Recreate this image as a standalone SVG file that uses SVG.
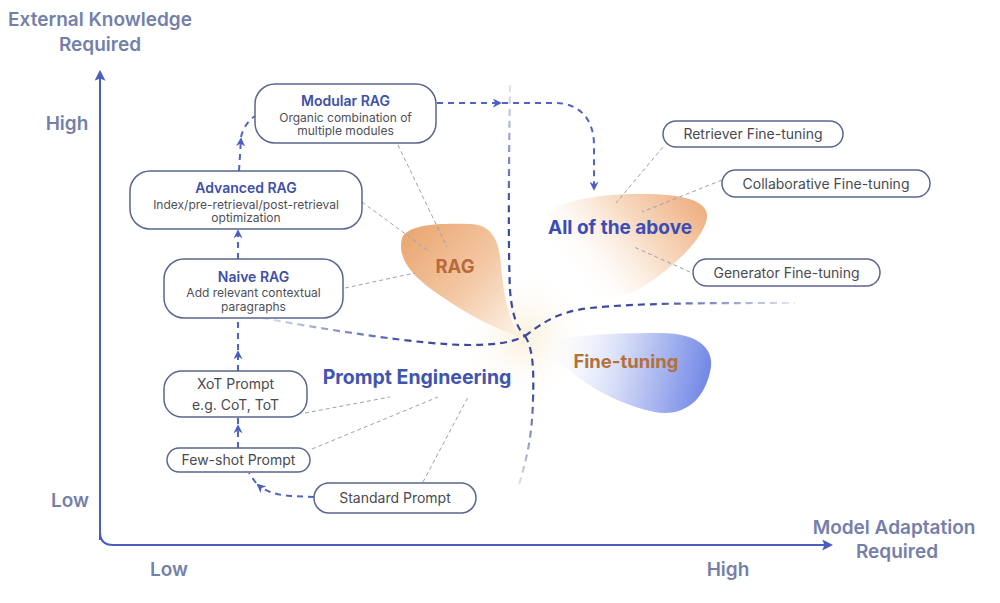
<svg xmlns="http://www.w3.org/2000/svg" width="1000" height="603" viewBox="0 0 1000 603">
<style>
.box{fill:#fff;stroke:#5a668f;stroke-width:1.5}
.t{font-family:Inter,"Liberation Sans",sans-serif;text-anchor:middle}
.ttl{font-size:14px;font-weight:600;fill:#3e50a8}
.sub{font-size:12px;fill:#4f4f55}
.lbl{font-size:14px;fill:#4a4a50}
.ax{font-size:19px;font-weight:600;fill:#7580aa}
.big{font-size:18.5px;font-weight:700}
.lead{fill:none;stroke:#9ca1b2;stroke-width:1;stroke-dasharray:4 3}
.arr{fill:none;stroke:#5164c6;stroke-width:2;stroke-dasharray:6 5}
.div{fill:none;stroke-width:2.2;stroke-dasharray:7 5}
</style>
<defs>
<marker id="ah" viewBox="0 0 10 10" refX="8" refY="5" markerWidth="9" markerHeight="9" markerUnits="userSpaceOnUse" orient="auto">
<path d="M0,0 L10,5 L0,10 L3,5 Z" fill="#4a5dc4"/>
</marker>
<marker id="axh" viewBox="0 0 10 10" refX="8" refY="5" markerWidth="11" markerHeight="11" markerUnits="userSpaceOnUse" orient="auto">
<path d="M0,0 L10,5 L0,10 L2,5 Z" fill="#4c5dbf"/>
</marker>
<linearGradient id="gRag" x1="400" y1="230" x2="515" y2="335" gradientUnits="userSpaceOnUse">
<stop offset="0" stop-color="#e9a56f"/>
<stop offset="0.55" stop-color="#f3c8a4"/>
<stop offset="1" stop-color="#fdf1e4"/>
</linearGradient>
<linearGradient id="gAll" x1="700" y1="200" x2="585" y2="295" gradientUnits="userSpaceOnUse">
<stop offset="0" stop-color="#eeae80"/>
<stop offset="0.45" stop-color="#f8dcc4"/>
<stop offset="1" stop-color="#ffffff" stop-opacity="0"/>
</linearGradient>
<linearGradient id="gFt" x1="540" y1="345" x2="710" y2="380" gradientUnits="userSpaceOnUse">
<stop offset="0" stop-color="#ffffff" stop-opacity="0"/>
<stop offset="0.5" stop-color="#d0d8f6"/>
<stop offset="1" stop-color="#7086e6"/>
</linearGradient>
<radialGradient id="glow" cx="525" cy="336" r="70" gradientUnits="userSpaceOnUse">
<stop offset="0" stop-color="#fbf1dc"/>
<stop offset="1" stop-color="#ffffff" stop-opacity="0"/>
</radialGradient>
<linearGradient id="gVu" x1="0" y1="85" x2="0" y2="210" gradientUnits="userSpaceOnUse">
<stop offset="0" stop-color="#e3e6f0"/>
<stop offset="1" stop-color="#3d4b9c"/>
</linearGradient>
<linearGradient id="gVd" x1="0" y1="390" x2="0" y2="485" gradientUnits="userSpaceOnUse">
<stop offset="0" stop-color="#3d4b9c"/>
<stop offset="1" stop-color="#dfe2ee"/>
</linearGradient>
<linearGradient id="gHl" x1="262" y1="0" x2="410" y2="0" gradientUnits="userSpaceOnUse">
<stop offset="0" stop-color="#e0e3ef"/>
<stop offset="1" stop-color="#3d4b9c"/>
</linearGradient>
<linearGradient id="gHr" x1="650" y1="0" x2="795" y2="0" gradientUnits="userSpaceOnUse">
<stop offset="0" stop-color="#3d4b9c"/>
<stop offset="1" stop-color="#e6e8f2"/>
</linearGradient>
</defs>
<rect width="1000" height="603" fill="#ffffff"/>

<g id="regions">
<circle cx="525" cy="336" r="70" fill="url(#glow)"/>
<path id="blob-rag" d="M 402 238 C 408 224, 440 223, 470 224 C 492 225, 499 240, 501 265 C 503 292, 508 316, 518 336 C 498 330, 470 316, 444 298 C 418 281, 396 262, 402 238 Z" fill="url(#gRag)"/>
<path id="blob-all" d="M 548 214 C 560 200, 600 193, 650 194 C 692 195, 712 204, 706 222 C 700 240, 682 258, 660 275 C 640 290, 620 300, 600 298 C 575 290, 545 240, 548 214 Z" fill="url(#gAll)"/>
<path id="blob-ft" d="M 535 345 C 560 336, 600 333, 660 333 C 700 333, 716 350, 710 372 C 705 395, 690 413, 665 413 C 640 412, 600 395, 575 375 C 560 362, 545 352, 535 345 Z" fill="url(#gFt)"/>
</g>

<g id="axes">
<path d="M 100 540 L 100 72" fill="none" stroke="#4c5dbf" stroke-width="2" marker-end="url(#axh)"/>
<path d="M 100 532 Q 100 545 113 545 L 831 545" fill="none" stroke="#4c5dbf" stroke-width="2" marker-end="url(#axh)"/>
<text class="t ax" x="100" y="26">External Knowledge</text>
<text class="t ax" x="100" y="51">Required</text>
<text class="t ax" x="67" y="130">High</text>
<text class="t ax" x="70" y="507">Low</text>
<text class="t ax" x="169" y="576">Low</text>
<text class="t ax" x="728" y="576">High</text>
<text class="t ax" x="894" y="534">Model Adaptation</text>
<text class="t ax" x="897" y="558">Required</text>
</g>

<g id="connectors">
<path class="div" d="M 510 85 C 509 150, 508 250, 510 290 C 512 315, 517 328, 525 336" stroke="url(#gVu)"/>
<path class="div" d="M 525 336 C 533 348, 534 370, 533 400 C 532 440, 526 460, 519 485" stroke="url(#gVd)"/>
<path class="div" d="M 262 318 C 330 330, 420 345, 470 345 C 500 345, 515 341, 525 336" stroke="url(#gHl)"/>
<path class="div" d="M 525 336 C 540 325, 555 312, 590 308 C 640 303, 700 303, 795 303" stroke="url(#gHr)"/>

<line class="lead" x1="398" y1="145" x2="447" y2="247"/>
<line class="lead" x1="362" y1="202" x2="430" y2="252"/>
<line class="lead" x1="345" y1="288" x2="415" y2="273"/>
<line class="lead" x1="663" y1="147" x2="616" y2="203"/>
<line class="lead" x1="722" y1="180" x2="642" y2="212"/>
<line class="lead" x1="690" y1="272" x2="634" y2="247"/>
<line class="lead" x1="305" y1="413" x2="390" y2="397"/>
<line class="lead" x1="312" y1="449" x2="438" y2="397"/>
<line class="lead" x1="423" y1="482" x2="468" y2="397"/>

<path class="arr" d="M 238 448 L 238 426" marker-end="url(#ah)"/>
<path class="arr" d="M 238 424 L 238 417"/>
<path class="arr" d="M 238 371 L 238 352" marker-end="url(#ah)"/>
<path class="arr" d="M 238 350 L 238 318"/>
<path class="arr" d="M 238 259 L 238 231" marker-end="url(#ah)"/>
<path class="arr" d="M 239 171 L 241 139" marker-end="url(#ah)"/>
<path class="arr" d="M 241 137 C 243 128, 248 121, 255 116" stroke-dasharray="4 3"/>
<path class="arr" d="M 314 497 L 290 496 C 276 495, 265 491, 258 485" marker-end="url(#ah)"/>
<path class="arr" d="M 256 483 L 249 473" stroke-dasharray="4 3"/>
<path class="arr" d="M 437 103 L 500 103" marker-end="url(#ah)"/>
<path class="arr" d="M 502 103 L 555 103 C 580 103, 594 120, 594 145 L 594 189" marker-end="url(#ah)"/>
</g>

<g id="node-modular">
<rect class="box" x="255" y="84" width="181" height="59" rx="20"/>
<text class="t ttl" x="345.5" y="106">Modular RAG</text>
<text class="t sub" x="345.5" y="121.5">Organic combination of</text>
<text class="t sub" x="345.5" y="135">multiple modules</text>
</g>
<g id="node-advanced">
<rect class="box" x="130" y="171" width="232" height="58" rx="20"/>
<text class="t ttl" x="246" y="192.5">Advanced RAG</text>
<text class="t sub" x="246" y="208.5">Index/pre-retrieval/post-retrieval</text>
<text class="t sub" x="246" y="222">optimization</text>
</g>
<g id="node-naive">
<rect class="box" x="164" y="259" width="179" height="59" rx="20"/>
<text class="t ttl" x="253.5" y="281.5">Naive RAG</text>
<text class="t sub" x="253.5" y="297">Add relevant contextual</text>
<text class="t sub" x="253.5" y="310.5">paragraphs</text>
</g>
<g id="node-xot">
<rect class="box" x="164" y="371" width="143" height="46" rx="18"/>
<text class="t lbl" x="235.5" y="389">XoT Prompt</text>
<text class="t lbl" x="235.5" y="410">e.g. CoT, ToT</text>
</g>
<g id="node-fewshot">
<rect class="box" x="167" y="448" width="143" height="24" rx="12"/>
<text class="t lbl" x="238.5" y="465">Few-shot Prompt</text>
</g>
<g id="node-standard">
<rect class="box" x="314" y="483" width="162" height="30" rx="15"/>
<text class="t lbl" x="395" y="503">Standard Prompt</text>
</g>
<g id="node-retriever">
<rect class="box" x="663" y="121" width="180" height="26" rx="13"/>
<text class="t lbl" x="753" y="139">Retriever Fine-tuning</text>
</g>
<g id="node-collab">
<rect class="box" x="722" y="170" width="208" height="27" rx="13.5"/>
<text class="t lbl" x="826" y="188.5">Collaborative Fine-tuning</text>
</g>
<g id="node-generator">
<rect class="box" x="693" y="259" width="187" height="27" rx="13.5"/>
<text class="t lbl" x="786.5" y="277.5">Generator Fine-tuning</text>
</g>

<g id="node-rag"><text class="t big" x="455" y="273" fill="#b9693a">RAG</text></g>
<g id="node-all"><text class="t big" x="620" y="234" fill="#3a4db5" style="font-size:19px">All of the above</text></g>
<g id="node-finetuning"><text class="t big" x="626" y="367.5" fill="#b4703c">Fine-tuning</text></g>
<g id="node-prompt"><text class="t big" x="417" y="384" fill="#3f55b0" style="font-size:19.5px">Prompt Engineering</text></g>
</svg>
